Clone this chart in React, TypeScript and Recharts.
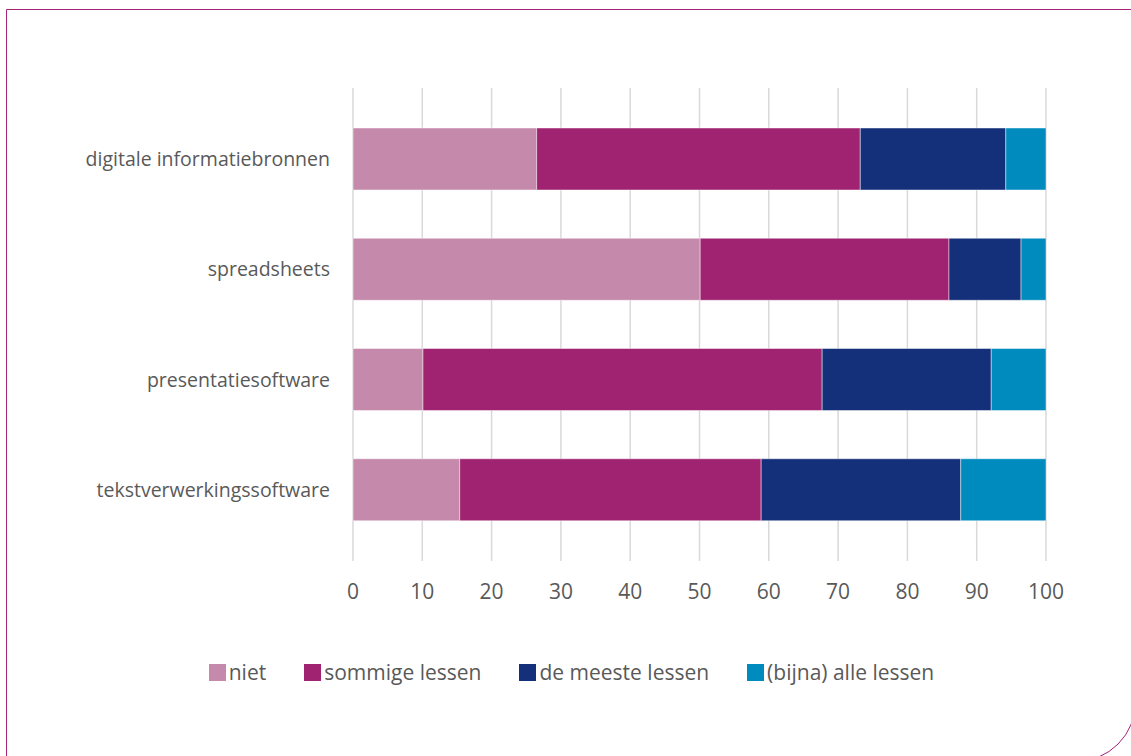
import React from "react";
import { Bar, BarChart, CartesianGrid, Legend, XAxis, YAxis } from "recharts";

const categories = [
  "digitale informatiebronnen",
  "spreadsheets",
  "presentatiesoftware",
  "tekstverwerkingssoftware",
];
const niet = [26.5, 50.1, 10.1, 15.4];
const sommige = [46.7, 35.9, 57.6, 43.5];
const meeste = [21.0, 10.4, 24.4, 28.8];
const alle = [5.8, 3.6, 7.9, 12.3];
const xTicks = [0, 10, 20, 30, 40, 50, 60, 70, 80, 90, 100];

const series = [
  { key: "niet", name: "niet", color: "#c58aab" },
  { key: "sommige", name: "sommige lessen", color: "#a02372" },
  { key: "meeste", name: "de meeste lessen", color: "#15307a" },
  { key: "alle", name: "(bijna) alle lessen", color: "#008bbf" },
];

const data = categories.map((name, i) => ({
  name,
  niet: niet[i],
  sommige: sommige[i],
  meeste: meeste[i],
  alle: alle[i],
}));

const textColor = "#595959";
const gridColor = "#d9d9d9";

function LegendContent() {
  return (
    <div style={{ display: "flex", justifyContent: "center", gap: 38, fontFamily: "'Open Sans', sans-serif", fontSize: 21, color: textColor }}>
      {series.map((s) => (
        <div key={s.key} style={{ display: "flex", alignItems: "center" }}>
          <span style={{ width: 17, height: 17, background: s.color, display: "inline-block", marginRight: 3 }} />
          <span>{s.name}</span>
        </div>
      ))}
    </div>
  );
}

export default function App() {
  return (
    <div style={{ position: "fixed", left: 0, top: 0, width: 1131, height: 756, background: "#fff", overflow: "hidden" }}>
      <div
        style={{
          position: "absolute",
          left: 6,
          top: 9,
          width: 1130,
          height: 753,
          border: "1.5px solid #a6237a",
          borderBottomRightRadius: 60,
          boxSizing: "border-box",
        }}
      />
      <div style={{ position: "absolute", left: 0, top: 0 }}>
        <BarChart
          width={1131}
          height={756}
          data={data}
          layout="vertical"
          margin={{ top: 88, right: 85, bottom: 181, left: 0 }}
        >
          <CartesianGrid horizontal={false} stroke={gridColor} strokeWidth={1.5} />
          <XAxis
            type="number"
            domain={[0, 100]}
            ticks={xTicks}
            interval={0}
            height={30}
            axisLine={false}
            tickLine={{ stroke: gridColor, strokeWidth: 1.5 }}
            tickSize={16}
            tickMargin={23}
            tick={{ fill: textColor, fontSize: 21, fontFamily: "'Open Sans', sans-serif" }}
          />
          <YAxis
            type="category"
            dataKey="name"
            width={353}
            axisLine={false}
            tickLine={false}
            tickSize={0}
            tickMargin={23}
            padding={{ top: 16, bottom: 0 }}
            tick={{ fill: textColor, fontSize: 19.5, fontFamily: "'Open Sans', sans-serif" }}
          />
          <Legend
            layout="horizontal"
            verticalAlign="middle"
            align="center"
            wrapperStyle={{ top: 658, left: 6, width: 1131 }}
            content={<LegendContent />}
          />
          {series.map((s) => (
            <Bar
              key={s.key}
              dataKey={s.key}
              name={s.name}
              stackId="a"
              fill={s.color}
              barSize={62}
              stroke="rgba(255,255,255,0.45)"
              strokeWidth={1}
              isAnimationActive={false}
            />
          ))}
        </BarChart>
      </div>
    </div>
  );
}
